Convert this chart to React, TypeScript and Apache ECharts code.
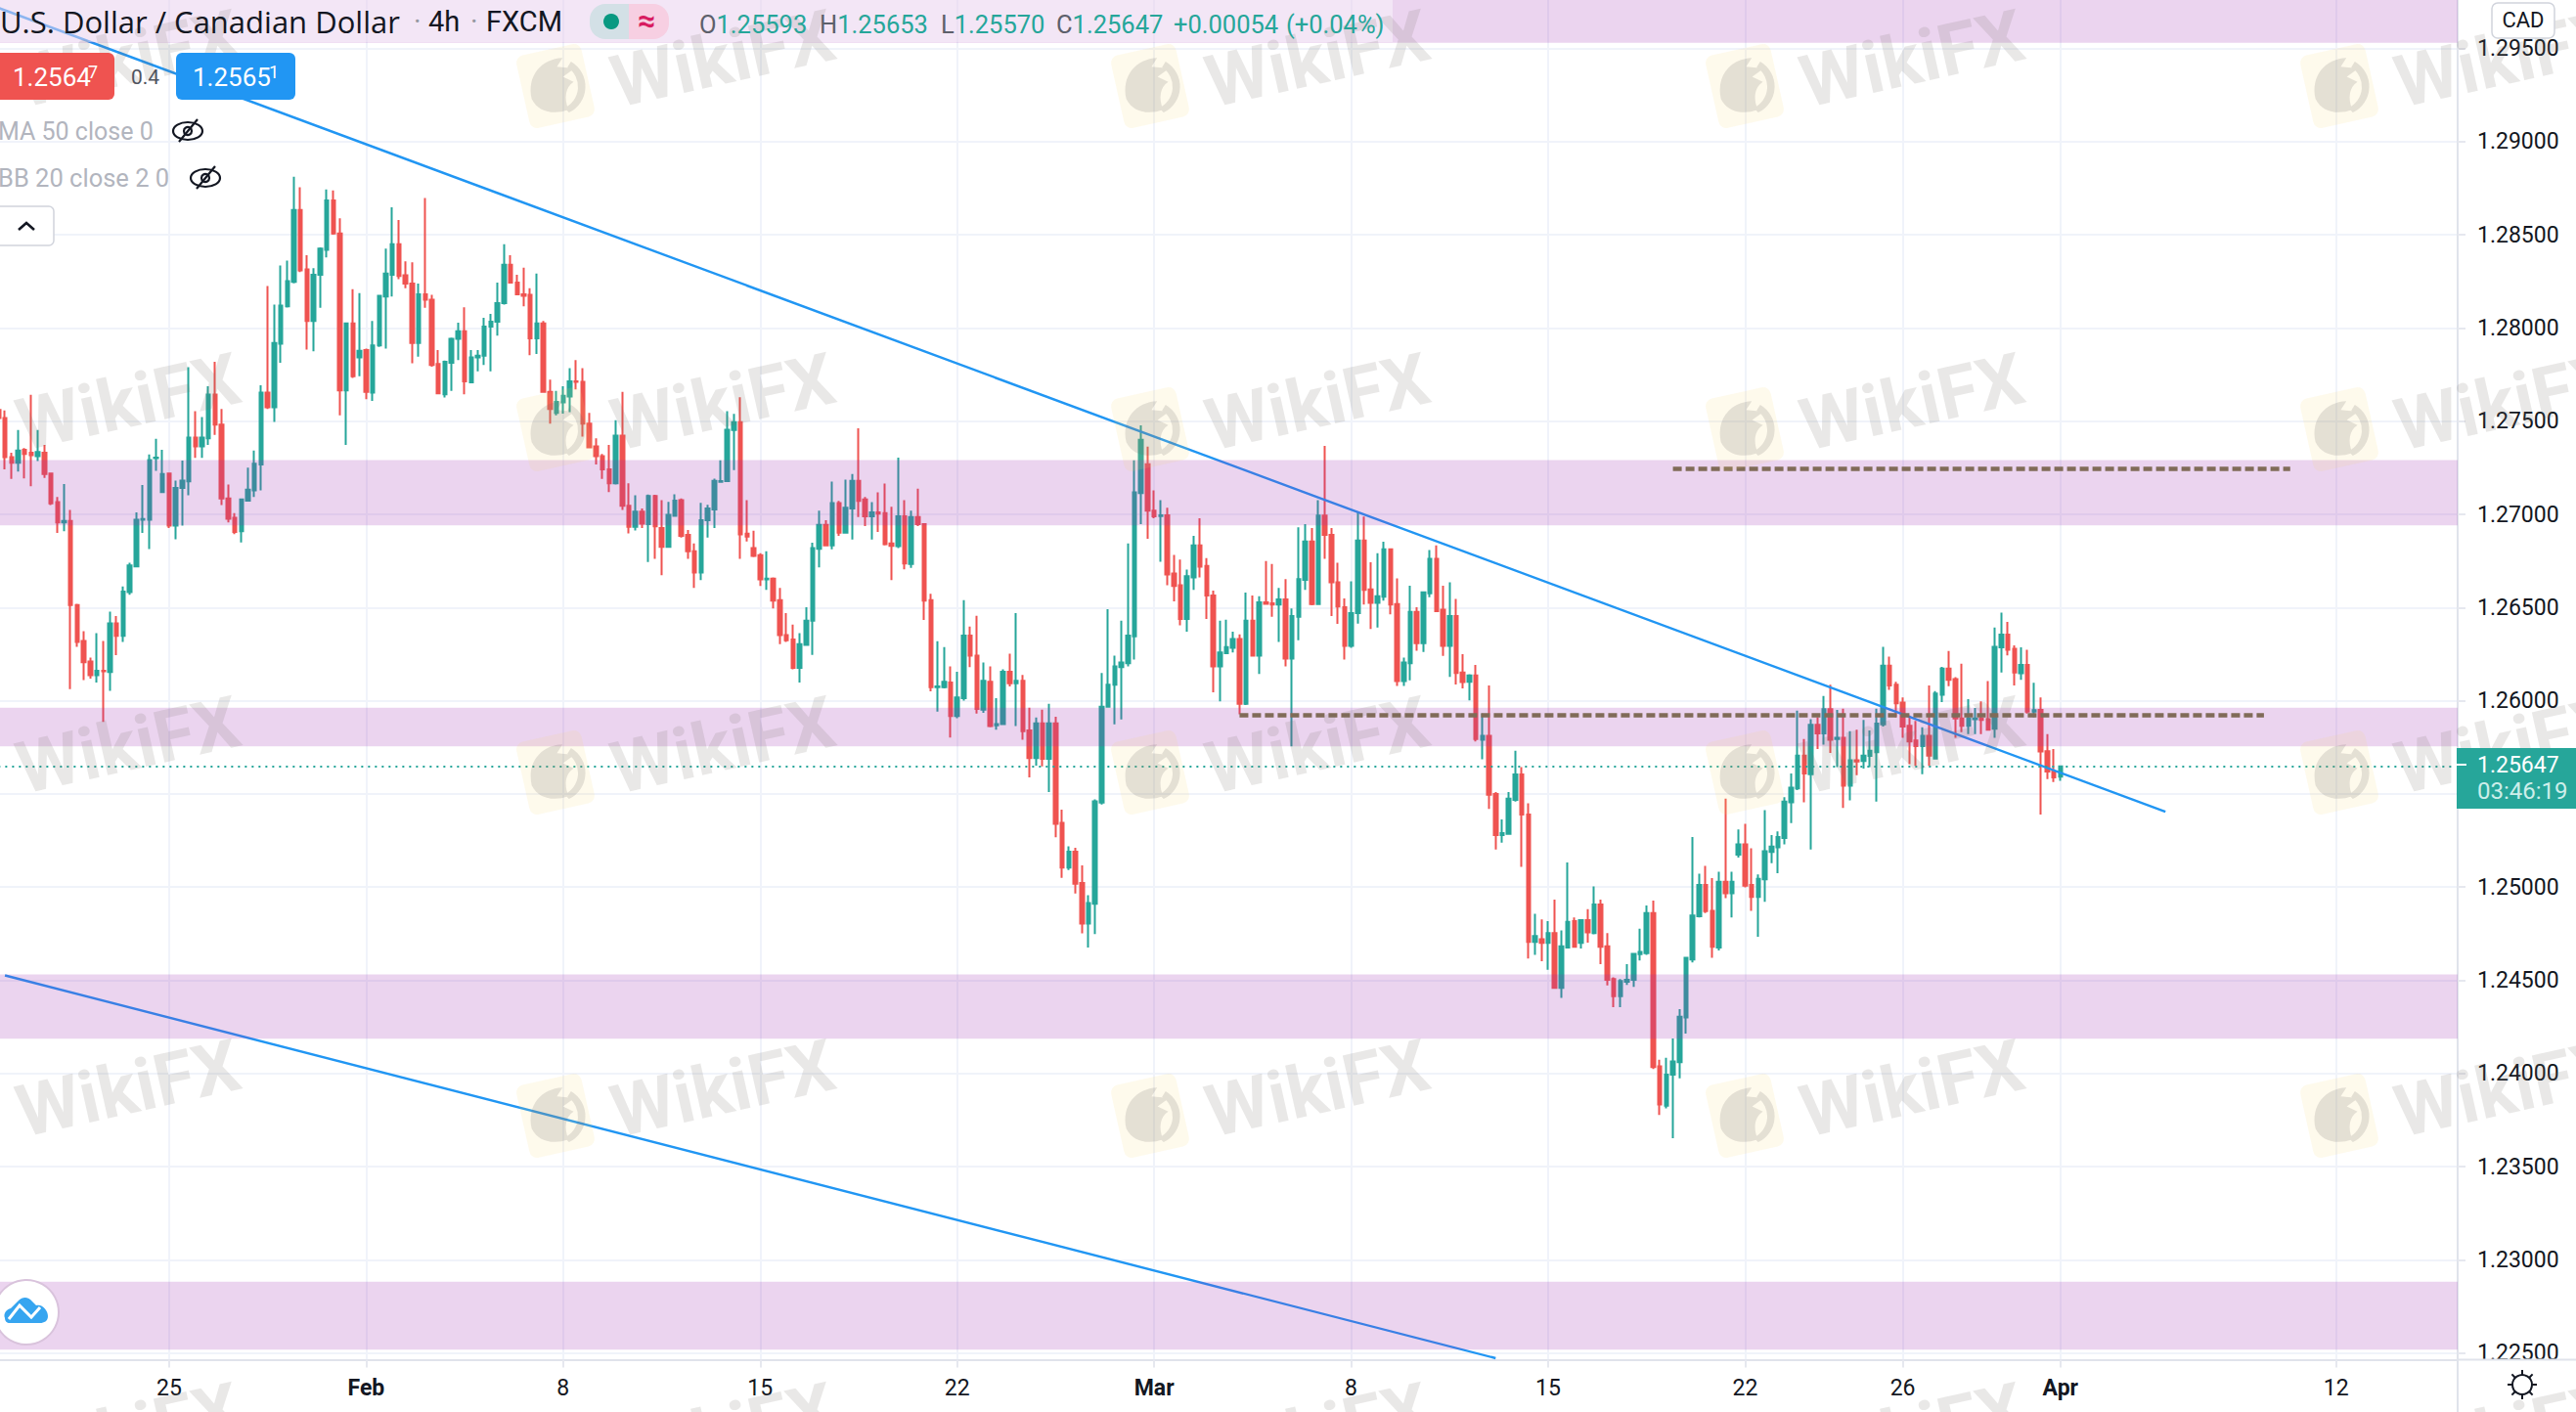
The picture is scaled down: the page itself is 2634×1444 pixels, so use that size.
import React, { useEffect, useRef } from "react";
import * as echarts from "echarts";

// ---------- data ----------
const opens = [1.27560,
1.27517,1.27307,1.27277,1.27347,1.27330,1.27312,1.27331,1.27219,1.27066,1.26957,
1.26964,1.26513,1.26320,1.26210,1.26137,1.26161,1.26154,1.26415,1.26348,1.26583,
1.26721,1.26971,1.26971,1.27302,1.27120,1.27219,1.26940,1.27142,1.27177,1.27412,
1.27365,1.27408,1.27643,1.27482,1.27085,1.26982,1.26910,1.27073,1.27128,1.27268,
1.27653,1.27574,1.27916,1.28117,1.28248,1.28633,1.28314,1.28038,1.28286,1.28419,
1.28685,1.28507,1.27665,1.28024,1.27842,1.27881,1.27653,1.27907,1.28169,1.28286,
1.28449,1.28283,1.28239,1.27919,1.28181,1.28152,1.27807,1.27644,1.27814,1.27942,
1.27982,1.27709,1.27842,1.27851,1.28008,1.28034,1.28134,1.28339,1.28244,1.28181,
1.28178,1.27945,1.28024,1.27657,1.27545,1.27601,1.27632,1.27714,1.27711,1.27487,
1.27365,1.27312,1.27242,1.27167,1.27422,1.27046,1.26933,1.27015,1.26948,1.27099,
1.26927,1.26826,1.26992,1.27076,1.26890,1.26802,1.26688,1.26968,1.27026,1.27174,
1.27178,1.27452,1.27495,1.26896,1.26819,1.26781,1.26651,1.26655,1.26539,1.26352,
1.26329,1.26176,1.26300,1.26429,1.26815,1.26943,1.26833,1.27060,1.26902,1.27031,
1.27180,1.27080,1.26989,1.27010,1.27006,1.26844,1.26829,1.26989,1.26734,1.26985,
1.26948,1.26539,1.26072,1.26072,1.26097,1.25918,1.26014,1.26350,1.26242,1.25952,
1.26101,1.25868,1.25874,1.26155,1.26093,1.26107,1.25841,1.25692,1.25879,1.25688,
1.25879,1.25344,1.25105,1.25190,1.25022,1.24804,1.24910,1.25454,1.25968,1.26086,
1.26180,1.26201,1.26346,1.27114,1.27269,1.27020,1.26991,1.26995,1.26682,1.26620,
1.26439,1.26661,1.26833,1.26723,1.26564,1.26184,1.26255,1.26284,1.26331,1.25983,
1.26429,1.26242,1.26528,1.26522,1.26516,1.26543,1.26226,1.26450,1.26649,1.26854,
1.26518,1.26993,1.26890,1.26636,1.26502,1.26294,1.26470,1.26860,1.26598,1.26525,
1.26558,1.26813,1.26519,1.26105,1.26201,1.26477,1.26309,1.26577,1.26761,1.26488,
1.26294,1.26455,1.26152,1.26102,1.26136,1.25791,1.25811,1.25500,1.25279,1.25285,
1.25468,1.25604,1.25389,1.24706,1.24720,1.24700,1.24753,1.24459,1.24676,1.24817,
1.24700,1.24823,1.24753,1.24907,1.24682,1.24506,1.24415,1.24492,1.24502,1.24640,
1.24646,1.24861,1.24038,1.23827,1.23994,1.24060,1.24301,1.24612,1.24843,1.25012,
1.24873,1.24676,1.25028,1.24967,1.25174,1.25229,1.25012,1.24947,1.25042,1.25188,
1.25214,1.25263,1.25455,1.25530,1.25706,1.25606,1.25871,1.25825,1.25955,1.25795,
1.25801,1.25544,1.25680,1.25676,1.25704,1.25724,1.25873,1.26188,1.26086,1.25990,
1.25865,1.25787,1.25757,1.25811,1.25690,1.26032,1.26172,1.26116,1.25905,1.25865,
1.25901,1.25905,1.25901,1.25849,1.26287,1.26355,1.26279,1.26148,1.26192,1.25941,
1.25951,1.25729,1.25620,1.25593];

const closes = [1.27517,
1.27307,1.27277,1.27342,1.27324,1.27317,1.27335,1.27216,1.27059,1.26957,1.26964,
1.26513,1.26315,1.26207,1.26137,1.26161,1.26158,1.26415,1.26348,1.26586,1.26726,
1.26971,1.26975,1.27291,1.27305,1.27216,1.26940,1.27142,1.27181,1.27412,1.27365,
1.27412,1.27643,1.27482,1.27085,1.26976,1.26906,1.27080,1.27132,1.27272,1.27653,
1.27574,1.27919,1.28120,1.28251,1.28633,1.28309,1.28038,1.28286,1.28426,1.28685,
1.28507,1.27665,1.28024,1.27741,1.27877,1.27657,1.27907,1.28173,1.28292,1.28449,
1.28279,1.28239,1.27919,1.28181,1.28152,1.27802,1.27650,1.27819,1.27942,1.27982,
1.27714,1.27842,1.27851,1.28008,1.28034,1.28134,1.28339,1.28244,1.28181,1.28173,
1.27945,1.28024,1.27657,1.27566,1.27604,1.27636,1.27714,1.27711,1.27487,1.27359,
1.27312,1.27242,1.27167,1.27422,1.27046,1.26933,1.27015,1.26950,1.27099,1.26936,
1.26826,1.26997,1.27073,1.26884,1.26802,1.26688,1.26968,1.27031,1.27180,1.27178,
1.27454,1.27495,1.26892,1.26881,1.26777,1.26651,1.26655,1.26537,1.26352,1.26325,
1.26176,1.26304,1.26429,1.26819,1.26943,1.26833,1.27060,1.26902,1.27035,1.27180,
1.27072,1.26989,1.27010,1.27004,1.26840,1.26831,1.26989,1.26736,1.26985,1.26948,
1.26537,1.26072,1.26076,1.26101,1.25918,1.26018,1.26350,1.26242,1.25956,1.26107,
1.25864,1.25874,1.26155,1.26093,1.26107,1.25837,1.25692,1.25879,1.25688,1.25879,
1.25340,1.25105,1.25190,1.25018,1.24804,1.24914,1.25460,1.25968,1.26086,1.26184,
1.26205,1.26350,1.27118,1.27400,1.27020,1.26989,1.26995,1.26678,1.26616,1.26439,
1.26668,1.26833,1.26719,1.26564,1.26184,1.26259,1.26288,1.26331,1.25983,1.26429,
1.26242,1.26528,1.26520,1.26516,1.26543,1.26226,1.26454,1.26653,1.26854,1.26518,
1.26993,1.26890,1.26636,1.26506,1.26294,1.26470,1.26860,1.26595,1.26525,1.26560,
1.26813,1.26516,1.26105,1.26205,1.26477,1.26309,1.26582,1.26761,1.26481,1.26294,
1.26455,1.26149,1.26100,1.26136,1.25795,1.25811,1.25496,1.25279,1.25289,1.25474,
1.25604,1.25389,1.24706,1.24737,1.24700,1.24753,1.24459,1.24682,1.24813,1.24680,
1.24823,1.24757,1.24907,1.24680,1.24502,1.24415,1.24496,1.24502,1.24642,1.24652,
1.24861,1.24034,1.23833,1.23994,1.24064,1.24305,1.24620,1.24847,1.25012,1.24871,
1.24680,1.25028,1.24967,1.25028,1.25229,1.25008,1.24947,1.25044,1.25192,1.25218,
1.25269,1.25459,1.25534,1.25706,1.25610,1.25871,1.25825,1.25955,1.25791,1.25801,
1.25544,1.25680,1.25674,1.25706,1.25731,1.25877,1.26188,1.26082,1.25986,1.25861,
1.25781,1.25757,1.25811,1.25706,1.26038,1.26172,1.26112,1.25905,1.25865,1.25905,
1.25905,1.25897,1.25845,1.26289,1.26355,1.26273,1.26152,1.26192,1.25941,1.25949,
1.25727,1.25620,1.25588,1.25647];

const lows = [1.27500,
1.27242,1.27190,1.27230,1.27193,1.27151,1.27286,1.27195,1.27050,1.26901,1.26910,
1.26062,1.26289,1.26111,1.26118,1.26097,1.25887,1.26053,1.26245,1.26315,1.26569,
1.26715,1.26901,1.26814,1.27233,1.27115,1.26927,1.26866,1.26940,1.27102,1.27303,
1.27303,1.27373,1.27426,1.27050,1.26957,1.26894,1.26849,1.27068,1.27093,1.27128,
1.27566,1.27496,1.27814,1.28110,1.28240,1.28300,1.27884,1.27875,1.28108,1.28379,
1.28501,1.27531,1.27373,1.27732,1.27741,1.27618,1.27609,1.27898,1.27889,1.28169,
1.28262,1.28213,1.27811,1.27846,1.28108,1.27793,1.27644,1.27627,1.27662,1.27828,
1.27644,1.27705,1.27767,1.27802,1.27767,1.27959,1.28125,1.28239,1.28178,1.28117,
1.27854,1.27860,1.27653,1.27487,1.27531,1.27540,1.27548,1.27671,1.27417,1.27356,
1.27268,1.27190,1.27120,1.27160,1.27024,1.26898,1.26913,1.26926,1.26744,1.26761,
1.26674,1.26822,1.26989,1.26875,1.26761,1.26605,1.26647,1.26875,1.26927,1.27170,
1.27175,1.27238,1.26761,1.26854,1.26771,1.26616,1.26595,1.26495,1.26304,1.26315,
1.26168,1.26097,1.26295,1.26246,1.26715,1.26829,1.26813,1.26885,1.26896,1.26865,
1.26985,1.26937,1.26865,1.26906,1.26833,1.26647,1.26819,1.26705,1.26713,1.26937,
1.26433,1.26051,1.25941,1.26066,1.25802,1.25906,1.26000,1.26180,1.25931,1.25935,
1.25858,1.25844,1.25871,1.26076,1.25864,1.25790,1.25588,1.25651,1.25647,1.25510,
1.25267,1.25049,1.25091,1.24966,1.24752,1.24675,1.24748,1.25443,1.25962,1.25873,
1.25900,1.26184,1.26221,1.26948,1.26869,1.26979,1.26746,1.26620,1.26533,1.26404,
1.26371,1.26595,1.26661,1.26439,1.26045,1.25997,1.26252,1.26259,1.25927,1.25977,
1.26238,1.26143,1.26516,1.26450,1.26315,1.26184,1.25755,1.26325,1.26595,1.26512,
1.26516,1.26761,1.26454,1.26412,1.26221,1.26284,1.26414,1.26516,1.26385,1.26393,
1.26537,1.26463,1.26079,1.26079,1.26110,1.26268,1.26262,1.26556,1.26477,1.26241,
1.26128,1.26087,1.26066,1.26002,1.25781,1.25686,1.25419,1.25202,1.25239,1.25280,
1.25459,1.25108,1.24616,1.24636,1.24602,1.24556,1.24455,1.24405,1.24672,1.24676,
1.24670,1.24702,1.24747,1.24586,1.24472,1.24355,1.24355,1.24475,1.24465,1.24606,
1.24636,1.24024,1.23777,1.23813,1.23652,1.23974,1.24214,1.24596,1.24837,1.24861,
1.24620,1.24660,1.24941,1.24837,1.25158,1.24998,1.24873,1.24733,1.24921,1.25128,
1.25074,1.25229,1.25343,1.25520,1.25455,1.25202,1.25741,1.25765,1.25720,1.25644,
1.25425,1.25465,1.25600,1.25636,1.25644,1.25459,1.25861,1.26058,1.25911,1.25801,
1.25660,1.25650,1.25606,1.25650,1.25684,1.25992,1.26078,1.25801,1.25831,1.25821,
1.25821,1.25821,1.25841,1.25801,1.26152,1.26243,1.26082,1.26112,1.25931,1.25911,
1.25389,1.25580,1.25564,1.25570];

const highs = [1.27592,
1.27557,1.27330,1.27452,1.27356,1.27641,1.27452,1.27373,1.27225,1.27093,1.27163,
1.27024,1.26520,1.26373,1.26231,1.26362,1.26320,1.26478,1.26455,1.26613,1.26740,
1.27011,1.27158,1.27321,1.27405,1.27347,1.27225,1.27181,1.27289,1.27790,1.27553,
1.27522,1.27688,1.27819,1.27566,1.27160,1.27006,1.27085,1.27251,1.27342,1.27693,
1.28225,1.28125,1.28335,1.28362,1.28811,1.28755,1.28391,1.28321,1.28432,1.28743,
1.28738,1.28589,1.28030,1.28208,1.28187,1.27889,1.28038,1.28178,1.28426,1.28647,
1.28580,1.28358,1.28353,1.28239,1.28697,1.28178,1.27881,1.27825,1.27948,1.28029,
1.28111,1.27881,1.27881,1.28055,1.28076,1.28244,1.28449,1.28391,1.28286,1.28323,
1.28213,1.28292,1.28038,1.27723,1.27662,1.27688,1.27784,1.27828,1.27784,1.27545,
1.27408,1.27324,1.27373,1.27505,1.27657,1.27167,1.27102,1.27032,1.27106,1.27105,
1.27076,1.27067,1.27108,1.27085,1.26916,1.26844,1.27062,1.27051,1.27192,1.27290,
1.27553,1.27539,1.27628,1.27076,1.26912,1.26792,1.26802,1.26661,1.26605,1.26470,
1.26408,1.26362,1.26501,1.26848,1.27020,1.26968,1.27176,1.27072,1.27186,1.27217,
1.27462,1.27093,1.27066,1.27118,1.27165,1.27041,1.27304,1.27076,1.27020,1.27138,
1.26952,1.26574,1.26319,1.26288,1.26184,1.26155,1.26539,1.26398,1.26456,1.26205,
1.26184,1.26014,1.26169,1.26253,1.26470,1.26138,1.25962,1.25910,1.25952,1.25983,
1.25914,1.25416,1.25219,1.25211,1.25117,1.24956,1.25470,1.26149,1.26491,1.26242,
1.26429,1.26844,1.27290,1.27477,1.27363,1.27128,1.27076,1.27035,1.26782,1.26757,
1.26703,1.26885,1.26979,1.26765,1.26591,1.26429,1.26435,1.26371,1.26356,1.26580,
1.26564,1.26560,1.26750,1.26734,1.26605,1.26653,1.26495,1.26931,1.26948,1.26927,
1.27076,1.27367,1.26927,1.26740,1.26549,1.26640,1.27014,1.26988,1.26743,1.26792,
1.26853,1.26817,1.26656,1.26231,1.26617,1.26502,1.26586,1.26808,1.26834,1.26617,
1.26635,1.26546,1.26250,1.26142,1.26192,1.25931,1.26082,1.25510,1.25363,1.25510,
1.25731,1.25644,1.25449,1.24857,1.24827,1.24817,1.24933,1.24767,1.25132,1.24837,
1.24827,1.24881,1.25004,1.24933,1.24753,1.24516,1.24506,1.24586,1.24646,1.24777,
1.24901,1.24927,1.24074,1.24084,1.24188,1.24345,1.24626,1.25269,1.25072,1.25114,
1.25048,1.25082,1.25475,1.25082,1.25309,1.25339,1.25208,1.25068,1.25413,1.25279,
1.25299,1.25483,1.25610,1.25947,1.25795,1.25901,1.25911,1.26026,1.26086,1.25951,
1.25957,1.25837,1.25845,1.25897,1.25841,1.25957,1.26289,1.26237,1.26102,1.26018,
1.25921,1.25891,1.25857,1.26082,1.26052,1.26182,1.26267,1.26126,1.26198,1.26008,
1.25961,1.25996,1.26106,1.26393,1.26473,1.26423,1.26297,1.26287,1.26273,1.26096,
1.26018,1.25821,1.25741,1.25653];

const BAR_SLOTS = 375;
const tickIndexes = [26, 56, 86, 116, 146, 176, 206, 236, 266, 290, 314, 356];
const tickLabels = ["25", "Feb", "8", "15", "22", "Mar", "8", "15", "22", "26", "Apr", "12"];
const boldLabels = ["Feb", "Mar", "Apr"];
const priceTicks = [1.225, 1.23, 1.235, 1.24, 1.245, 1.25, 1.255, 1.26, 1.265, 1.27, 1.275, 1.28, 1.285, 1.29, 1.295];
const PRICE_MIN = 1.22464;
const PRICE_MAX = 1.2976;
const LAST_PRICE = 1.25647;

const zoneTops = [PRICE_MAX, 1.27291, 1.25963, 1.24531, 1.22883];
const zoneBottoms = [1.29531, 1.26941, 1.25755, 1.24186, 1.22518];

// trend lines: [bar index, price, bar index, price]
const trendUpper = [0, 1.29718, 330, 1.25404];
const trendLower = [1, 1.24526, 228, 1.22472];
const levelHigh = [255, 349, 1.27244];
const levelMid = [189, 345, 1.25925];

const watermarkXs = [131, 739, 1347, 1955, 2563];
const watermarkYs = [60, 411, 762, 1113, 1464];

const UP = "#26a69a";
const DOWN = "#ef5350";
const FONT = "Roboto, sans-serif";

const eaglePath =
  "M-28 8C-28 -18 -8 -32 14 -28L6 -20L24 -14L10 -8L20 0C10 4 6 14 8 28C-8 30 -24 24 -28 8Z" +
  "M22 -22A31 31 0 0 1 8 31L4 25A25 25 0 0 0 17 -17Z";
const cloudPath =
  "M-22 7C-24 2 -20 -2 -16 -3L-8 -11C-4 -15 2 -15 6 -10L10 -6C16 -8 22 -1 22 5C22 10 18 12 14 12L-17 12C-20 12 -22 10 -22 7Z";

echarts.graphic.registerShape("wfxEagle", echarts.graphic.extendPath(eaglePath, {}));
echarts.graphic.registerShape("tvCloud", echarts.graphic.extendPath(cloudPath, {}));

const txt = (text: string, x: number, y: number, size: number, fill: string, z: number, extra: any = {}) => ({
  type: "text",
  x,
  y,
  z,
  silent: true,
  style: {
    text,
    fill,
    font: `${extra.weight ?? "normal"} ${size}px ${extra.family ?? FONT}`,
    verticalAlign: "middle",
    align: extra.align ?? "left",
  },
});

const ohlc = (label: string, value: string, x: number) => ({
  type: "text",
  x,
  y: 25,
  z: 70,
  silent: true,
  style: {
    text: `{l|${label}}{v|${value}}`,
    verticalAlign: "middle",
    rich: {
      l: { fill: "#5d606b", font: `25.5px ${FONT}` },
      v: { fill: UP, font: `25.5px ${FONT}` },
    },
  },
});

function eyeOff(cx: number, cy: number, z: number) {
  const stroke = { stroke: "#131722", lineWidth: 2.2, fill: "none" };
  return [
    { type: "ellipse", x: cx, y: cy, z, silent: true, shape: { cx: 0, cy: 0, rx: 15, ry: 9 }, style: stroke },
    { type: "circle", x: cx, y: cy, z, silent: true, shape: { cx: 0, cy: 0, r: 4 }, style: stroke },
    { type: "line", z, silent: true, shape: { x1: cx - 9, y1: cy + 11, x2: cx + 10, y2: cy - 12 }, style: { stroke: "#131722", lineWidth: 2.2 } },
  ];
}

function buildGraphics() {
  const g: any[] = [];
  // legend wash over the top zone
  g.push({ type: "rect", z: 40, silent: true, shape: { x: 0, y: 0, width: 1424, height: 43 }, style: { fill: "rgba(255,255,255,0.42)" } });
  // strip under the price axis
  g.push({ type: "rect", z: 41, silent: true, shape: { x: 2515, y: 1391, width: 119, height: 53 }, style: { fill: "#ffffff" } });
  g.push({ type: "line", z: 42, silent: true, shape: { x1: 2513, y1: 1390.5, x2: 2634, y2: 1390.5 }, style: { stroke: "#e0e3eb", lineWidth: 2 } });
  g.push({ type: "line", z: 42, silent: true, shape: { x1: 2513, y1: 1390, x2: 2513, y2: 1444 }, style: { stroke: "#e0e3eb", lineWidth: 2 } });

  // title
  g.push(txt("U.S. Dollar / Canadian Dollar", 0, 22, 31, "#131722", 70, { family: "'Open Sans', sans-serif" }));
  g.push(txt("·", 423, 22, 29, "#9598a1", 70));
  g.push(txt("4h", 438, 22, 29, "#131722", 70));
  g.push(txt("·", 481, 22, 29, "#9598a1", 70));
  g.push(txt("FXCM", 497, 22, 29, "#131722", 70));

  // status pill
  g.push({ type: "rect", z: 60, silent: true, shape: { x: 603, y: 4, width: 44, height: 36, r: [16, 0, 0, 16] }, style: { fill: "#d3e0e6" } });
  g.push({ type: "rect", z: 60, silent: true, shape: { x: 643, y: 4, width: 41, height: 36, r: [0, 16, 16, 0] }, style: { fill: "#f7cfe2" } });
  g.push({ type: "circle", z: 70, silent: true, shape: { cx: 625, cy: 22, r: 8 }, style: { fill: "#089981" } });
  g.push(txt("≈", 661, 21, 32, "#d81b60", 70, { align: "center", weight: "bold" }));

  g.push(ohlc("O", "1.25593", 715));
  g.push(ohlc("H", "1.25653", 838));
  g.push(ohlc("L", "1.25570", 962));
  g.push(ohlc("C", "1.25647", 1080));
  g.push(txt("+0.00054", 1200, 25, 25.5, UP, 70));
  g.push(txt("(+0.04%)", 1315, 25, 25.5, UP, 70));

  // bid / ask
  g.push({ type: "rect", z: 60, silent: true, shape: { x: -6, y: 54, width: 123, height: 48, r: 6 }, style: { fill: DOWN } });
  g.push(txt("1.2564", 13, 79, 26, "#ffffff", 70));
  g.push(txt("7", 90, 73, 18, "#ffffff", 70));
  g.push(txt("0.4", 134, 79, 21, "#50535e", 70));
  g.push({ type: "rect", z: 60, silent: true, shape: { x: 180, y: 54, width: 122, height: 48, r: 6 }, style: { fill: "#2196f3" } });
  g.push(txt("1.2565", 197, 79, 26, "#ffffff", 70));
  g.push(txt("1", 275, 73, 18, "#ffffff", 70));

  // collapsed indicators
  g.push(txt("MA 50 close 0", -2, 134, 25, "#b2b5be", 70));
  g.push(...eyeOff(192, 134, 70));
  g.push(txt("BB 20 close 2 0", -2, 182, 25.5, "#b2b5be", 70));
  g.push(...eyeOff(210, 182, 70));
  g.push({ type: "rect", z: 60, silent: true, shape: { x: -4, y: 211, width: 59, height: 40, r: 5 }, style: { fill: "#ffffff", stroke: "#d1d4dc", lineWidth: 1.5 } });
  g.push({ type: "polyline", z: 70, silent: true, shape: { points: [[19, 235], [27, 228], [35, 235]] }, style: { stroke: "#131722", lineWidth: 2.6, fill: "none" } });

  // currency tag
  g.push({ type: "rect", z: 60, silent: true, shape: { x: 2548, y: 3, width: 64, height: 36, r: 6 }, style: { fill: "#ffffff", stroke: "#d1d4dc", lineWidth: 1.5 } });
  g.push(txt("CAD", 2580, 20, 22, "#131722", 70, { align: "center" }));

  // last price tag
  g.push({ type: "rect", z: 60, silent: true, shape: { x: 2512, y: 765, width: 122, height: 62 }, style: { fill: UP } });
  g.push({ type: "line", z: 61, silent: true, shape: { x1: 2512, y1: 782, x2: 2522, y2: 782 }, style: { stroke: "#ffffff", lineWidth: 2 } });
  g.push(txt(LAST_PRICE.toFixed(5), 2533, 782, 23, "#ffffff", 70));
  g.push(txt("03:46:19", 2533, 809, 24, "#cdeeea", 70));

  // settings glyph
  g.push({ type: "circle", z: 70, silent: true, shape: { cx: 2579, cy: 1416, r: 10 }, style: { stroke: "#131722", lineWidth: 2, fill: "none" } });
  for (let k = 0; k < 8; k++) {
    const a = (k * Math.PI) / 4 + Math.PI / 2;
    g.push({ type: "line", z: 70, silent: true, shape: { x1: 2579 + 10 * Math.cos(a), y1: 1416 + 10 * Math.sin(a), x2: 2579 + 15 * Math.cos(a), y2: 1416 + 15 * Math.sin(a) }, style: { stroke: "#131722", lineWidth: 2 } });
  }

  // tradingview badge
  g.push({ type: "circle", z: 60, silent: true, shape: { cx: 27, cy: 1342, r: 33 }, style: { fill: "#ffffff", stroke: "#d9c3dc", lineWidth: 2 } });
  g.push({ type: "tvCloud", x: 27, y: 1341, z: 70, silent: true, style: { fill: "#36a5f0" } });
  g.push({ type: "polyline", z: 71, silent: true, shape: { points: [[9, 1349], [20, 1335], [32, 1347], [41, 1337]] }, style: { stroke: "#ffffff", lineWidth: 3, fill: "none" } });

  // watermark
  for (const wx of watermarkXs) {
    for (const wy of watermarkYs) {
      g.push({
        type: "text", x: wx, y: wy, z: 50, silent: true, rotation: 0.22,
        style: { text: "WikiFX", fill: "rgba(120,110,105,0.16)", font: `bold 74px ${FONT}`, align: "center", verticalAlign: "middle" },
      });
      const lx = wx - 171;
      const ly = wy + 28;
      g.push({ type: "rect", x: lx, y: ly, z: 50, silent: true, rotation: 0.22, shape: { x: -34, y: -38, width: 68, height: 76, r: 8 }, style: { fill: "rgba(250,215,110,0.13)" } });
      g.push({ type: "wfxEagle", x: lx, y: ly, z: 50, silent: true, rotation: 0.22, scaleX: 0.95, scaleY: 0.95, style: { fill: "rgba(110,105,105,0.18)" } });
    }
  }
  return g;
}

export default function App() {
  const ref = useRef<HTMLDivElement>(null);
  useEffect(() => {
    document.body.style.margin = "0";
    const chart = echarts.init(ref.current!, undefined, { renderer: "svg" });
    const tickAt = new Map(tickIndexes.map((t, k) => [t, tickLabels[k]]));
    const categories = Array.from({ length: BAR_SLOTS }, (_, i) => tickAt.get(i) ?? `bar ${i}`);
    const isTick = (i: number) => tickAt.has(i);
    const seg = (a: number, pa: number, b: number, pb: number, style: any) => [
      { coord: [a, pa], lineStyle: style, symbol: "none" },
      { coord: [b, pb], symbol: "none" },
    ];
    const blue = { color: "#2196f3", width: 2.4, type: "solid" };
    const brown = { color: "#806b58", width: 4.5, type: [9, 4] };

    chart.setOption({
      animation: false,
      backgroundColor: "#ffffff",
      grid: { left: -5, right: 121, top: 0, bottom: 53.5, outerBoundsMode: "none" },
      xAxis: {
        type: "category",
        data: categories,
        boundaryGap: true,
        axisLine: { show: true, lineStyle: { color: "#e0e3eb", width: 2 } },
        axisTick: { show: true, alignWithLabel: true, interval: isTick, length: 8, lineStyle: { color: "#e6e8ef", width: 2 } },
        splitLine: { show: true, alignWithLabel: true, interval: isTick, lineStyle: { color: "#f0f3fa", width: 2 } },
        axisLabel: {
          show: true,
          interval: isTick,
          margin: 17,
          color: "#131722",
          fontFamily: "Roboto",
          fontSize: 23,
          formatter: (v: string) => (boldLabels.includes(v) ? `{b|${v}}` : v),
          rich: { b: { fontFamily: "Roboto", fontSize: 23, fontWeight: "bold", color: "#131722" } },
        },
      },
      yAxis: {
        type: "value",
        position: "right",
        min: PRICE_MIN,
        max: PRICE_MAX,
        axisLine: { show: true, lineStyle: { color: "#e0e3eb", width: 2 } },
        axisTick: { show: true, length: 8, customValues: priceTicks, lineStyle: { color: "#e6e8ef", width: 2 } },
        splitLine: { show: true, lineStyle: { color: "#f0f3fa", width: 2 } },
        axisLabel: {
          show: true,
          margin: 20,
          customValues: priceTicks,
          color: "#131722",
          fontFamily: "Roboto",
          fontSize: 23,
          formatter: (v: number) => v.toFixed(5),
        },
      },
      series: [
        {
          name: "USDCAD",
          type: "candlestick",
          z: 2,
          barWidth: 4,
          data: opens.map((o, i) => [o, closes[i], lows[i], highs[i]]),
          itemStyle: { color: UP, color0: DOWN, borderColor: UP, borderColor0: DOWN, borderWidth: 2 },
          silent: true,
          markLine: {
            z: 3,
            silent: true,
            symbol: ["none", "none"],
            animation: false,
            label: { show: false },
            data: [
              seg(trendUpper[0], trendUpper[1], trendUpper[2], trendUpper[3], blue),
              seg(trendLower[0], trendLower[1], trendLower[2], trendLower[3], blue),
              [
                { coord: [0, LAST_PRICE], lineStyle: { color: UP, width: 2, type: [2, 5] }, symbol: "none" },
                { coord: [BAR_SLOTS - 1, LAST_PRICE], symbol: "none" },
              ],
            ],
          },
        },
        {
          name: "zones",
          type: "line",
          data: [],
          silent: true,
          markArea: {
            z: 5,
            silent: true,
            animation: false,
            itemStyle: { color: "rgba(156,39,176,0.2)", borderWidth: 0 },
            data: zoneTops.map((t, k) => [{ yAxis: t }, { yAxis: zoneBottoms[k] }]),
          },
        },
        {
          name: "levels",
          type: "line",
          data: [],
          silent: true,
          markLine: {
            z: 6,
            silent: true,
            symbol: ["none", "none"],
            animation: false,
            label: { show: false },
            data: [
              seg(levelHigh[0], levelHigh[2], levelHigh[1], levelHigh[2], brown),
              seg(levelMid[0], levelMid[2], levelMid[1], levelMid[2], brown),
            ],
          },
        },
      ],
      graphic: { elements: buildGraphics() },
    });
    return () => chart.dispose();
  }, []);
  return <div ref={ref} style={{ position: "fixed", left: 0, top: 0, width: 2634, height: 1444, overflow: "hidden" }} />;
}
